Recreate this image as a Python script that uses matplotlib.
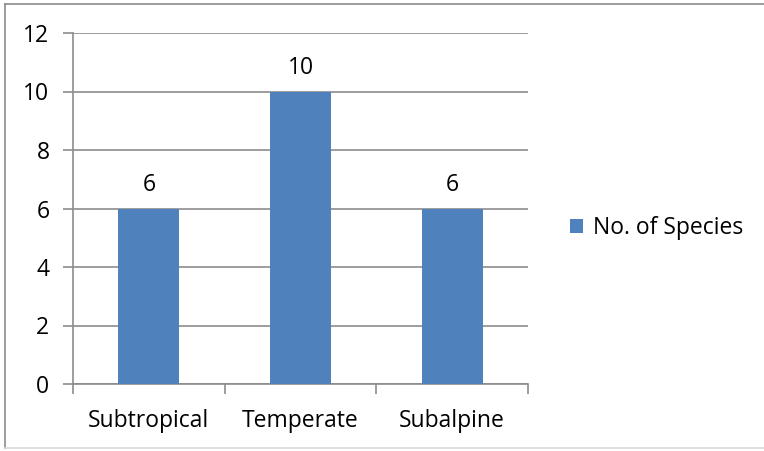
import matplotlib.pyplot as plt
import numpy as np
from matplotlib.lines import Line2D

categories = ["Subtropical", "Temperate", "Subalpine"]
species = [6, 10, 6]
yticks = [0, 2, 4, 6, 8, 10, 12]

plt.rcParams['font.family'] = ['Open Sans', 'DejaVu Sans']
fs = 16.5

fig = plt.figure(figsize=(7.64, 4.51), dpi=100)
ax = fig.add_axes([73 / 764, 1 - 384 / 451, 455 / 764, 351 / 451])

x = np.arange(len(categories))
bars = ax.bar(x, species, width=0.4, color="#4F81BD", zorder=3, label="No. of Species")
for b, v in zip(bars, species):
    ax.annotate(str(v), (b.get_x() + b.get_width() / 2, v), xytext=(0, 8),
                textcoords="offset points", ha="center", va="bottom", fontsize=fs)

ax.set_xlim(-0.5, len(categories) - 0.5)
ax.set_ylim(0, 12)
ax.set_yticks(yticks)
ax.yaxis.grid(True, color="#8C8C8C", linewidth=1.2, zorder=0)
ax.set_xticks(x)
ax.set_xticklabels(categories, fontsize=fs)
ax.tick_params(axis="x", length=0, pad=18)
ax.tick_params(axis="y", length=7, width=1.2, color="#8C8C8C", labelsize=fs, pad=10)
ax.set_xticks(np.arange(-0.5, len(categories)), minor=True)
ax.tick_params(axis="x", which="minor", length=7, width=1.2, color="#8C8C8C")
for s in ["top", "right"]:
    ax.spines[s].set_visible(False)
for s in ["left", "bottom"]:
    ax.spines[s].set_color("#8C8C8C")
    ax.spines[s].set_linewidth(1.2)

fig.legend(handles=[bars], labels=["No. of Species"], loc="center left",
           bbox_to_anchor=(549 / 764, 1 - 228 / 451), frameon=False, fontsize=fs,
           handlelength=0.6, handleheight=0.6, handletextpad=0.4)

fig.add_artist(Line2D([5 / 764, 5 / 764], [1 - 448 / 451, 1 - 4 / 451], color="#8C8C8C", lw=1.2))
fig.add_artist(Line2D([5 / 764, 1], [1 - 4 / 451, 1 - 4 / 451], color="#8C8C8C", lw=1.2))
fig.add_artist(Line2D([5 / 764, 1], [1 - 448 / 451, 1 - 448 / 451], color="#D9D9D9", lw=1.2))

fig.savefig("out.png", dpi=100)
